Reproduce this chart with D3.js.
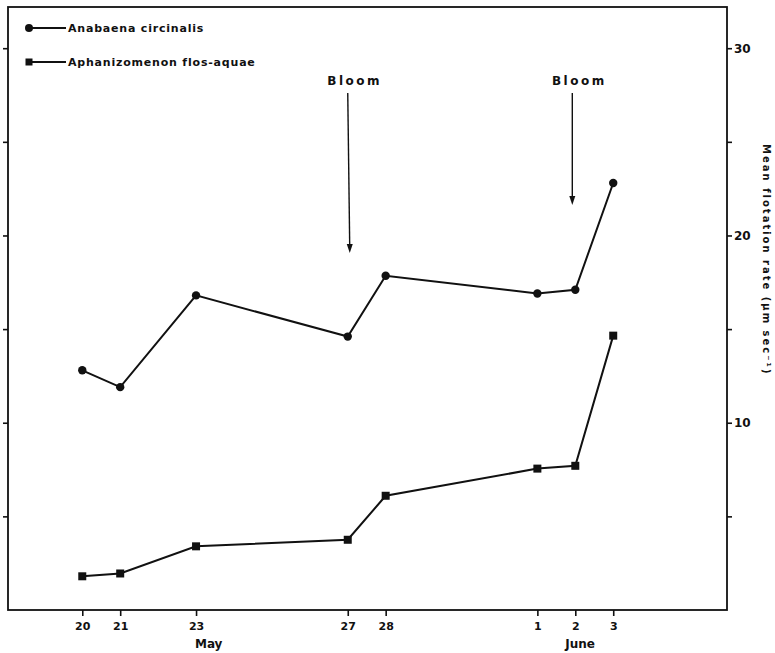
<!DOCTYPE html>
<html>
<head>
<meta charset="utf-8">
<script src="https://cdn.jsdelivr.net/npm/d3@7"></script>
<style>
  html, body { margin: 0; padding: 0; background: #fff; }
  svg { display: block; }
  text { font-family: "DejaVu Sans", sans-serif; font-weight: bold; fill: #111; }
</style>
</head>
<body>
<svg id="chart" width="775" height="653"></svg>
<script>
// Sampling dates (May 20 – June 3)
const dates = ["1980-05-20", "1980-05-21", "1980-05-23", "1980-05-27", "1980-05-28",
               "1980-06-01", "1980-06-02", "1980-06-03"];
const dayLabels = ["20", "21", "23", "27", "28", "1", "2", "3"];

// Mean flotation rate (µm s⁻¹)
const anabaena = [12.8, 11.9, 16.8, 14.6, 17.85, 16.9, 17.1, 22.8];
const aphanizomenon = [1.8, 1.95, 3.4, 3.75, 6.1, 7.55, 7.7, 14.65];

const seriesNames = ["Anabaena circinalis", "Aphanizomenon flos-aquae"];
const bloomDates = ["1980-05-27", "1980-06-02"];
const monthLabels = [{ text: "May", date: "1980-05-23T08:00" }, { text: "June", date: "1980-06-02T03:00" }];
const yTicks = [5, 10, 15, 20, 25, 30];
const yLabelled = [10, 20, 30];

const parse = d3.isoParse;
const svg = d3.select("#chart");
const frame = { left: 8, right: 727, top: 7, bottom: 610 };

const x = d3.scaleTime()
  .domain([parse("1980-05-18T01:00"), parse("1980-06-06T00:00")])
  .range([frame.left, frame.right]);
const y = d3.scaleLinear().domain([0, 32.2]).range([frame.bottom, frame.top]);

// Frame
svg.append("rect")
  .attr("x", frame.left).attr("y", frame.top)
  .attr("width", frame.right - frame.left).attr("height", frame.bottom - frame.top)
  .attr("fill", "none").attr("stroke", "#111").attr("stroke-width", 1.8);

// Left axis: ticks only
const gl = svg.append("g").attr("transform", `translate(${frame.left},0)`)
  .call(d3.axisLeft(y).tickValues(yTicks).tickSize(5).tickFormat(""));
gl.select(".domain").remove();
gl.selectAll("line").attr("stroke", "#111").attr("stroke-width", 1.6);

// Right axis with labels
const gr = svg.append("g").attr("transform", `translate(${frame.right},0)`)
  .call(d3.axisRight(y).tickValues(yTicks).tickSize(5)
    .tickFormat(d => yLabelled.includes(d) ? d : ""));
gr.select(".domain").remove();
gr.selectAll("line").attr("stroke", "#111").attr("stroke-width", 1.6);
gr.selectAll("text").attr("x", 7).style("font-size", "12px").style("font-family", "DejaVu Sans").style("font-weight", "bold").attr("fill", "#111");

// Right axis title
svg.append("text")
  .attr("transform", `translate(763,${y(18.7)}) rotate(90)`)
  .attr("text-anchor", "middle")
  .style("font-size", "10px").style("letter-spacing", "2px")
  .text("Mean flotation rate (μm sec⁻¹)");

// Bottom axis
const gb = svg.append("g").attr("transform", `translate(0,${frame.bottom})`)
  .call(d3.axisBottom(x).tickValues(dates.map(parse)).tickSize(6)
    .tickFormat((d, i) => dayLabels[i]));
gb.select(".domain").remove();
gb.selectAll("line").attr("stroke", "#111").attr("stroke-width", 1.6);
gb.selectAll("text").attr("y", 12).style("font-size", "11px").style("font-family", "DejaVu Sans").style("font-weight", "bold").attr("fill", "#111");

svg.selectAll(".month").data(monthLabels).enter().append("text")
  .attr("x", d => x(parse(d.date))).attr("y", 648)
  .attr("text-anchor", "middle").style("font-size", "12px")
  .text(d => d.text);

// Series lines and markers
const line = d3.line().x((d, i) => x(parse(dates[i]))).y(d => y(d));
[anabaena, aphanizomenon].forEach(vals => {
  svg.append("path").datum(vals).attr("d", line)
    .attr("fill", "none").attr("stroke", "#111").attr("stroke-width", 2);
});
svg.selectAll(".pt-a").data(anabaena).enter().append("circle")
  .attr("cx", (d, i) => x(parse(dates[i]))).attr("cy", d => y(d)).attr("r", 4.2).attr("fill", "#111");
svg.selectAll(".pt-b").data(aphanizomenon).enter().append("rect")
  .attr("x", (d, i) => x(parse(dates[i])) - 4).attr("y", d => y(d) - 4)
  .attr("width", 8).attr("height", 8).attr("fill", "#111");

// Bloom arrows
const arrowEnds = [253, 205];
bloomDates.forEach((d, i) => {
  const bx = x(parse(d)) - (i === 1 ? 3 : 0);
  const tx = bx + (i === 0 ? 2 : 0), ty = arrowEnds[i];
  svg.append("text").attr("x", bx + 7).attr("y", 85).attr("text-anchor", "middle")
    .style("font-size", "12px").style("letter-spacing", "2.5px").text("Bloom");
  svg.append("line").attr("x1", bx).attr("y1", 93).attr("x2", tx).attr("y2", ty - 4)
    .attr("stroke", "#111").attr("stroke-width", 1.4);
  svg.append("path").attr("d", `M${tx - 3},${ty - 9}L${tx + 3},${ty - 9}L${tx},${ty}Z`).attr("fill", "#111");
});

// Legend
const legendY = [28, 62];
seriesNames.forEach((name, i) => {
  svg.append("line").attr("x1", 29).attr("x2", 66).attr("y1", legendY[i]).attr("y2", legendY[i])
    .attr("stroke", "#111").attr("stroke-width", 1.8);
  if (i === 0) svg.append("circle").attr("cx", 29).attr("cy", legendY[i]).attr("r", 4).attr("fill", "#111");
  else svg.append("rect").attr("x", 25.5).attr("y", legendY[i] - 3.5).attr("width", 7).attr("height", 7).attr("fill", "#111");
  svg.append("text").attr("x", 68).attr("y", legendY[i] + 4).style("font-size", "11px")
    .style("letter-spacing", "0.8px").text(name);
});
</script>
</body>
</html>
